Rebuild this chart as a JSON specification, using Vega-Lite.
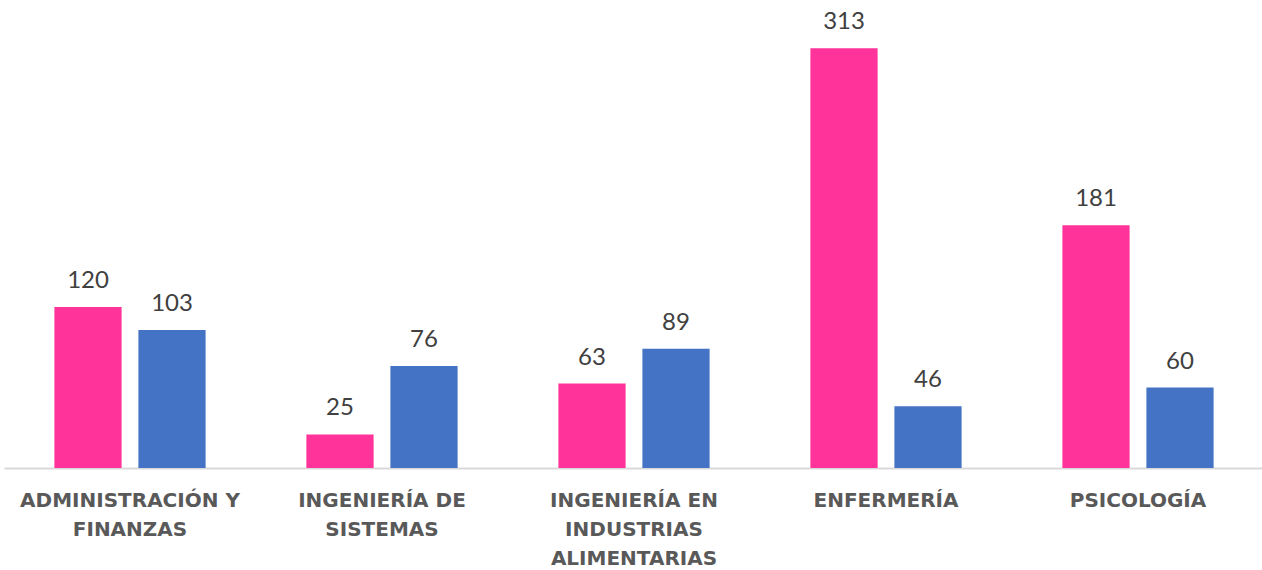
{
  "$schema": "https://vega.github.io/schema/vega-lite/v6.json",
  "autosize": "none",
  "width": 1260,
  "height": 468,
  "padding": {"left": 4, "top": 0, "right": 0, "bottom": 102},
  "background": "white",
  "config": {"view": {"stroke": null}, "font": "Lato"},
  "data": {
    "values": [
      {"carrera": "ADMINISTRACIÓN Y|FINANZAS", "serie": "Serie 1", "valor": 120},
      {"carrera": "ADMINISTRACIÓN Y|FINANZAS", "serie": "Serie 2", "valor": 103},
      {"carrera": "INGENIERÍA DE|SISTEMAS", "serie": "Serie 1", "valor": 25},
      {"carrera": "INGENIERÍA DE|SISTEMAS", "serie": "Serie 2", "valor": 76},
      {"carrera": "INGENIERÍA EN|INDUSTRIAS|ALIMENTARIAS", "serie": "Serie 1", "valor": 63},
      {"carrera": "INGENIERÍA EN|INDUSTRIAS|ALIMENTARIAS", "serie": "Serie 2", "valor": 89},
      {"carrera": "ENFERMERÍA", "serie": "Serie 1", "valor": 313},
      {"carrera": "ENFERMERÍA", "serie": "Serie 2", "valor": 46},
      {"carrera": "PSICOLOGÍA", "serie": "Serie 1", "valor": 181},
      {"carrera": "PSICOLOGÍA", "serie": "Serie 2", "valor": 60}
    ]
  },
  "encoding": {
    "x": {
      "field": "carrera",
      "type": "nominal",
      "sort": null,
      "title": null,
      "scale": {"paddingInner": 0.4, "paddingOuter": 0.2},
      "axis": {
        "labelAngle": 0,
        "labelExpr": "split(datum.label, '|')",
        "labelFont": "DejaVu Sans",
        "labelFontWeight": "bold",
        "labelFontSize": 20,
        "labelLineHeight": 29,
        "labelColor": "#595959",
        "labelPadding": 22,
        "labelBaseline": "top",
        "ticks": false,
        "domainColor": "#d9d9d9",
        "domainWidth": 2,
        "labelLimit": 400
      }
    },
    "xOffset": {"field": "serie", "type": "nominal", "scale": {"paddingInner": 0.2, "paddingOuter": 0}},
    "y": {
      "field": "valor",
      "type": "quantitative",
      "scale": {"domain": [0, 349], "nice": false},
      "axis": null
    },
    "color": {
      "field": "serie",
      "type": "nominal",
      "scale": {"domain": ["Serie 1", "Serie 2"], "range": ["#FF3399", "#4472C4"]},
      "legend": null
    }
  },
  "layer": [
    {"mark": {"type": "bar"}},
    {
      "mark": {"type": "text", "baseline": "bottom", "dy": -14, "fontSize": 24, "font": "Lato", "color": "#404040"},
      "encoding": {"text": {"field": "valor", "type": "quantitative"}, "color": {"value": "#404040"}}
    }
  ]
}
